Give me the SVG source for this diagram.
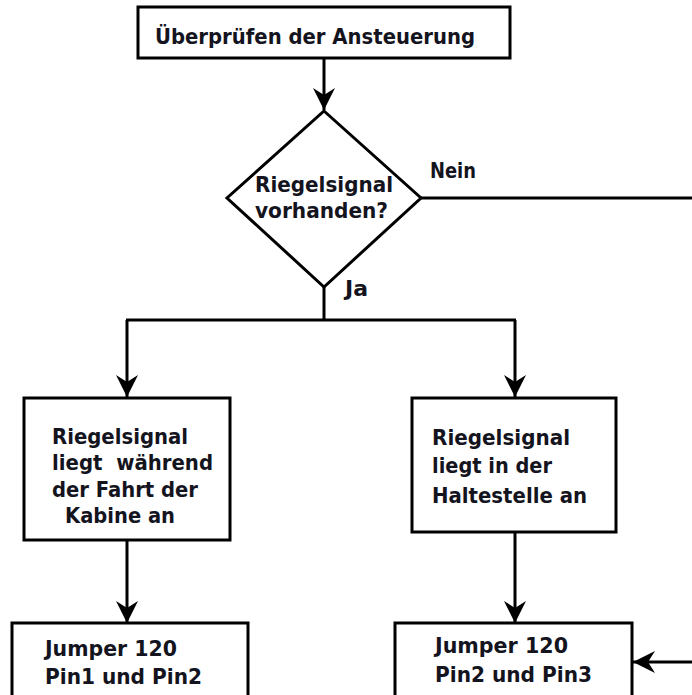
<svg xmlns="http://www.w3.org/2000/svg" width="692" height="695" viewBox="0 0 692 695">
<style>
.box{fill:#fff;stroke:#000;stroke-width:3}
.ln{fill:none;stroke:#000;stroke-width:3}
.t{font-family:"DejaVu Sans Condensed","DejaVu Sans",sans-serif;font-stretch:condensed;font-weight:bold;font-size:22px;fill:#14141e}
</style>
<defs>
<marker id="ah" viewBox="0 0 22 22" refX="22" refY="11" markerWidth="22" markerHeight="22" markerUnits="userSpaceOnUse" orient="auto">
<path d="M0,0 L22,11 L0,22 L7,11 Z" fill="#000"/>
</marker>
</defs>
<rect width="692" height="695" fill="#fff"/>
<g id="connectors">
<path class="ln" d="M324,58 V110" marker-end="url(#ah)"/>
<path class="ln" d="M421,198 H692"/>
<path class="ln" d="M324,287 V320"/>
<path class="ln" d="M126,320 H516"/>
<path class="ln" d="M127,320 V397" marker-end="url(#ah)"/>
<path class="ln" d="M515,320 V397" marker-end="url(#ah)"/>
<path class="ln" d="M127,540 V623" marker-end="url(#ah)"/>
<path class="ln" d="M515,532 V623" marker-end="url(#ah)"/>
<path class="ln" d="M692,662 H633" marker-end="url(#ah)"/>
<text class="t" x="430" y="178" textLength="46" lengthAdjust="spacingAndGlyphs">Nein</text>
<text class="t" x="345" y="296" textLength="23" lengthAdjust="spacingAndGlyphs">Ja</text>
</g>
<g id="start">
<rect class="box" x="138" y="7" width="372" height="51"/>
<text class="t" x="155" y="44" textLength="320" lengthAdjust="spacingAndGlyphs">Überprüfen der Ansteuerung</text>
</g>
<g id="decision">
<polygon class="box" points="324,111 421,198 324,287 227,198"/>
<text class="t" x="255" y="192" textLength="138" lengthAdjust="spacingAndGlyphs">Riegelsignal</text>
<text class="t" x="255" y="218" textLength="133" lengthAdjust="spacingAndGlyphs">vorhanden?</text>
</g>
<g id="fahrt">
<rect class="box" x="24" y="398" width="206" height="142"/>
<text class="t" x="52" y="444" textLength="136" lengthAdjust="spacingAndGlyphs">Riegelsignal</text>
<text class="t" x="52" y="470" textLength="161" lengthAdjust="spacingAndGlyphs" xml:space="preserve">liegt  während</text>
<text class="t" x="52" y="497" textLength="146" lengthAdjust="spacingAndGlyphs">der Fahrt der</text>
<text class="t" x="65" y="523" textLength="110" lengthAdjust="spacingAndGlyphs">Kabine an</text>
</g>
<g id="haltestelle">
<rect class="box" x="412" y="398" width="204" height="134"/>
<text class="t" x="432" y="445" textLength="138" lengthAdjust="spacingAndGlyphs">Riegelsignal</text>
<text class="t" x="432" y="473" textLength="120" lengthAdjust="spacingAndGlyphs">liegt in der</text>
<text class="t" x="432" y="503" textLength="155" lengthAdjust="spacingAndGlyphs">Haltestelle an</text>
</g>
<g id="jumper12">
<rect class="box" x="12" y="623" width="236" height="80"/>
<text class="t" x="45" y="656" textLength="132" lengthAdjust="spacingAndGlyphs">Jumper 120</text>
<text class="t" x="45" y="684" textLength="157" lengthAdjust="spacingAndGlyphs">Pin1 und Pin2</text>
</g>
<g id="jumper23">
<rect class="box" x="395" y="623" width="237" height="80"/>
<text class="t" x="435" y="653" textLength="133" lengthAdjust="spacingAndGlyphs">Jumper 120</text>
<text class="t" x="435" y="682" textLength="157" lengthAdjust="spacingAndGlyphs">Pin2 und Pin3</text>
</g>
</svg>
